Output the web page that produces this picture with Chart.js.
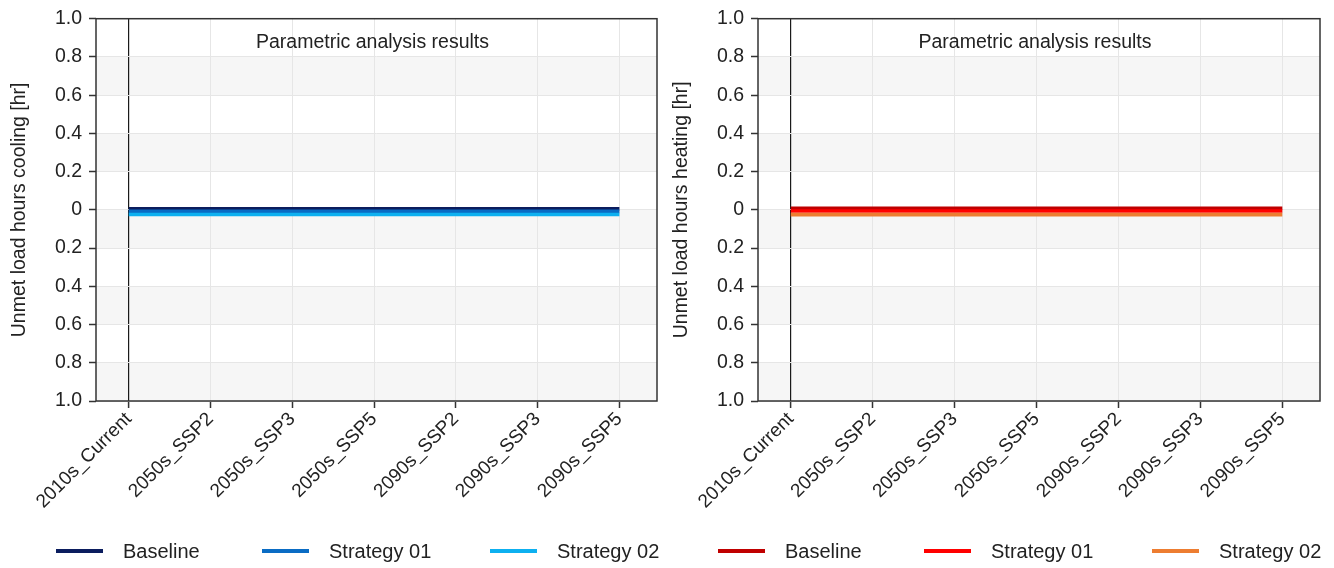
<!DOCTYPE html>
<html><head><meta charset="utf-8">
<script src="https://cdn.jsdelivr.net/npm/chart.js@4.4.1/dist/chart.umd.min.js"></script>
<style>
html,body{margin:0;padding:0;background:#fff;width:1334px;height:568px;overflow:hidden;}
.panel{position:absolute;top:0;width:667px;height:568px;}
.panel canvas{position:absolute;left:0;top:0;}
.legend{position:absolute;top:539px;display:grid;grid-template-columns:206px 228px auto;font:20px 'Liberation Sans',Arial,sans-serif;color:#222;line-height:24px;white-space:nowrap;}
.item{display:flex;align-items:center;}
.swatch{width:47px;height:4px;margin-right:20px;flex:none;}
</style></head>
<body>
<div class="panel" style="left:0"><canvas id="c1" width="667" height="568"></canvas><div class="legend" id="l1" style="left:56px"></div></div>
<div class="panel" style="left:667px"><canvas id="c2" width="667" height="568"></canvas><div class="legend" id="l2" style="left:51px"></div></div>
<script>
// ---------- data ----------
const categories = ['2010s_Current','2050s_SSP2','2050s_SSP3','2050s_SSP5','2090s_SSP2','2090s_SSP3','2090s_SSP5'];
const yTickValues = [-1, -0.8, -0.6, -0.4, -0.2, 0, 0.2, 0.4, 0.6, 0.8, 1];
const yTickLabels = ['1.0','0.8','0.6','0.4','0.2','0','0.2','0.4','0.6','0.8','1.0'];
const seriesNames = ['Baseline', 'Strategy 01', 'Strategy 02'];
const chartTitle = 'Parametric analysis results';
const coolingTitle = 'Unmet load hours cooling [hr]';
const heatingTitle = 'Unmet load hours heating [hr]';

const coolingBaseline = [0.006, 0.006, 0.006, 0.006, 0.006, 0.006, 0.006];
const coolingStrategy01 = [-0.008, -0.008, -0.008, -0.008, -0.008, -0.008, -0.008];
const coolingStrategy02 = [-0.024, -0.024, -0.024, -0.024, -0.024, -0.024, -0.024];

const heatingBaseline = [0.008, 0.008, 0.008, 0.008, 0.008, 0.008, 0.008];
const heatingStrategy01 = [-0.006, -0.006, -0.006, -0.006, -0.006, -0.006, -0.006];
const heatingStrategy02 = [-0.025, -0.025, -0.025, -0.025, -0.025, -0.025, -0.025];

const coolingColors = ['#0b1d5e', '#0a6cc4', '#0db0f0'];
const heatingColors = ['#c00000', '#ff0000', '#ed7d31'];

// ---------- styling ----------
const FONT = "'Liberation Sans', Arial, sans-serif";
Chart.defaults.font.family = FONT;
Chart.defaults.color = '#222';

const bandsAndFrame = {
  id: 'bandsAndFrame',
  beforeDraw(chart) {
    const {ctx, chartArea: a, scales: {y}} = chart;
    ctx.save();
    ctx.fillStyle = '#f6f6f6';
    for (let i = 0; i < yTickValues.length - 1; i++) {
      if (i % 2 === 0) {
        const y1 = y.getPixelForValue(yTickValues[i]);
        const y2 = y.getPixelForValue(yTickValues[i + 1]);
        ctx.fillRect(a.left, Math.min(y1, y2), a.right - a.left, Math.abs(y2 - y1));
      }
    }
    ctx.restore();
  },
  afterDraw(chart) {
    const {ctx, chartArea: a} = chart;
    ctx.save();
    ctx.strokeStyle = '#333';
    ctx.lineWidth = 1.5;
    ctx.strokeRect(a.left, a.top, a.right - a.left, a.bottom - a.top);
    ctx.fillStyle = '#222';
    ctx.font = '19.5px ' + FONT;
    ctx.textAlign = 'center';
    ctx.textBaseline = 'middle';
    ctx.fillText(chartTitle, (a.left + a.right) / 2 - 4, a.top + 24);
    ctx.restore();
  }
};

function makeChart(canvasId, legendId, values, colors, yTitle, yAxisWidth, titlePad, padRight) {
  const datasets = values.map((vals, k) => ({
    label: seriesNames[k],
    data: categories.map((c, i) => ({x: i, y: vals[i]})),
    borderColor: colors[k],
    backgroundColor: colors[k],
    borderWidth: 3.6,
    borderCapStyle: 'butt',
    pointRadius: 0,
    tension: 0,
    order: 3 - k
  }));
  const chart = new Chart(document.getElementById(canvasId), {
    type: 'line',
    data: {datasets},
    options: {
      responsive: false,
      animation: false,
      devicePixelRatio: 1,
      layout: {padding: {top: 14, bottom: 0, left: 0, right: padRight}},
      plugins: {legend: {display: false}, tooltip: {enabled: false}},
      scales: {
        x: {
          type: 'linear',
          min: -0.4,
          max: 6.46,
          afterBuildTicks: s => { s.ticks = categories.map((c, i) => ({value: i})); },
          afterFit: s => { s.height = 167; },
          border: {display: false},
          grid: {
            color: c => (c.tick && c.tick.value === 0) ? '#1a1a1a' : '#e6e6e6',
            lineWidth: c => (c.tick && c.tick.value === 0) ? 1.2 : 1,
            tickColor: '#333',
            tickWidth: 1.5,
            tickLength: 7
          },
          ticks: {
            autoSkip: false,
            minRotation: 45,
            maxRotation: 45,
            padding: 0,
            font: {size: 19},
            callback: v => categories[v]
          }
        },
        y: {
          type: 'linear',
          min: -1,
          max: 1,
          afterBuildTicks: s => { s.ticks = yTickValues.map(v => ({value: v})); },
          afterFit: s => { s.width = yAxisWidth; },
          border: {display: false},
          grid: {color: '#e6e6e6', tickColor: '#333', tickWidth: 1.5, tickLength: 7},
          ticks: {
            padding: 7,
            font: {size: 19.5},
            callback: (v, i) => yTickLabels[i]
          },
          title: {display: true, text: yTitle, font: {size: 19.5}, padding: {top: titlePad, bottom: 0}}
        }
      }
    },
    plugins: [bandsAndFrame]
  });
  const lg = document.getElementById(legendId);
  chart.data.datasets.forEach(ds => {
    const it = document.createElement('div');
    it.className = 'item';
    const sw = document.createElement('span');
    sw.className = 'swatch';
    sw.style.background = ds.borderColor;
    const tx = document.createElement('span');
    tx.textContent = ds.label;
    it.appendChild(sw); it.appendChild(tx);
    lg.appendChild(it);
  });
  return chart;
}

makeChart('c1', 'l1', [coolingBaseline, coolingStrategy01, coolingStrategy02], coolingColors, coolingTitle, 96, 8, 10);
makeChart('c2', 'l2', [heatingBaseline, heatingStrategy01, heatingStrategy02], heatingColors, heatingTitle, 91, 3, 14);
</script>
</body></html>
